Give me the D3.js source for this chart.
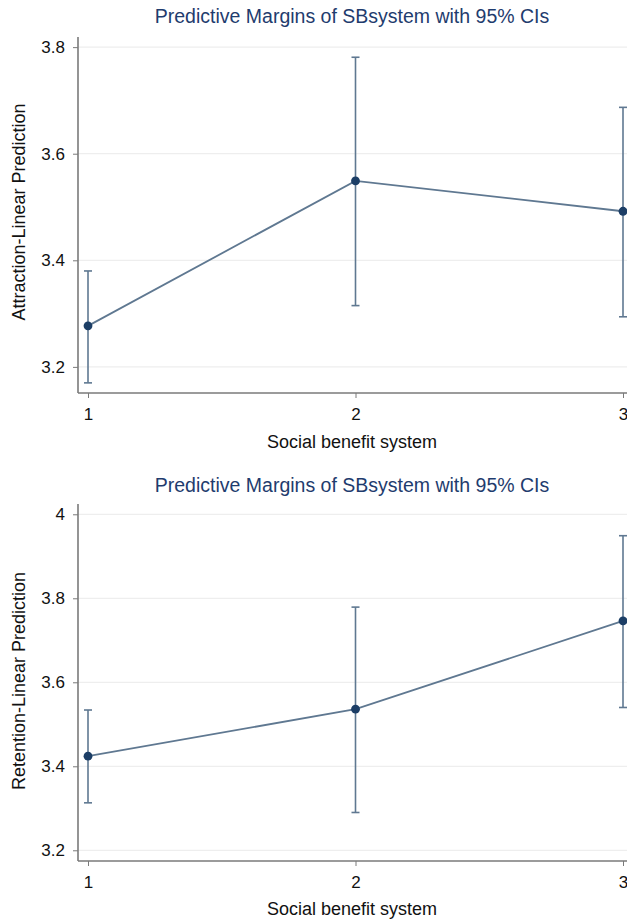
<!DOCTYPE html>
<html><head><meta charset="utf-8">
<script src="https://cdn.jsdelivr.net/npm/d3@7"></script>
<style>
html,body{margin:0;padding:0;background:#fff;}
svg{display:block;font-family:"Liberation Sans",Arial,Helvetica,sans-serif;}
</style></head>
<body><svg id="c" width="627" height="919"></svg>
<script>
const categories = [1, 2, 3];
const attractionMean = [3.277, 3.549, 3.492];
const attractionLow  = [3.170, 3.315, 3.294];
const attractionHigh = [3.380, 3.781, 3.687];
const retentionMean = [3.424, 3.536, 3.746];
const retentionLow  = [3.313, 3.290, 3.540];
const retentionHigh = [3.534, 3.779, 3.949];
const attractionTicks = [3.2, 3.4, 3.6, 3.8];
const retentionTicks = [3.2, 3.4, 3.6, 3.8, 4];
const titleText = "Predictive Margins of SBsystem with 95% CIs";
const xTitle = "Social benefit system";

const svg = d3.select("#c");
const lineColor = "#5f7891", dotColor = "#1c3e66", axisColor = "#7a7a7a", gridColor = "#eeeeee";

function panel(cfg) {
  const g = svg.append("g");
  const x = d3.scaleLinear().domain([1, 3]).range([88, 623]);
  const y = d3.scaleLinear().domain(cfg.yDomain).range([cfg.yBottom, cfg.yTop]);
  const axisX = 78;
  g.append("text").attr("x", 352).attr("y", cfg.titleY).attr("text-anchor", "middle")
    .attr("font-size", 19.5).attr("fill", "#1f3c6e").text(titleText);
  g.selectAll(".grid").data(cfg.ticks).join("line")
    .attr("x1", axisX).attr("x2", 627).attr("y1", d => y(d)).attr("y2", d => y(d))
    .attr("stroke", gridColor).attr("stroke-width", 1.2);
  const ya = g.append("g").attr("transform", `translate(${axisX},0)`)
    .call(d3.axisLeft(y).tickValues(cfg.ticks).tickSize(5).tickPadding(8).tickFormat(d3.format("")));
  ya.select(".domain").attr("stroke", axisColor).attr("stroke-width", 1.6)
    .attr("d", `M0,${y.range()[1]}V${y.range()[0]}`);
  ya.selectAll(".tick line").attr("stroke", axisColor);
  ya.selectAll(".tick text").attr("font-size", 17).attr("fill", "#111").attr("font-family", "Liberation Sans, Arial, sans-serif");
  const xa = g.append("g").attr("transform", `translate(0,${cfg.yBottom})`)
    .call(d3.axisBottom(x).tickValues(categories).tickSize(5).tickPadding(10).tickFormat(d3.format("d")));
  xa.select(".domain").attr("stroke", axisColor).attr("stroke-width", 1.6)
    .attr("d", `M${axisX},0H630`);
  xa.selectAll(".tick line").attr("stroke", axisColor);
  xa.selectAll(".tick text").attr("font-size", 17).attr("fill", "#111").attr("font-family", "Liberation Sans, Arial, sans-serif");
  g.append("text").attr("x", 352).attr("y", cfg.xTitleY).attr("text-anchor", "middle")
    .attr("font-size", 18).attr("fill", "#111").text(xTitle);
  g.append("text").attr("transform", `translate(25,${cfg.yTitleC}) rotate(-90)`)
    .attr("text-anchor", "middle").attr("font-size", 18).attr("fill", "#111").text(cfg.yTitle);
  const data = categories.map((c, i) => ({c, m: cfg.mean[i], lo: cfg.low[i], hi: cfg.high[i]}));
  g.selectAll(".eb").data(data).join("line")
    .attr("x1", d => x(d.c)).attr("x2", d => x(d.c)).attr("y1", d => y(d.lo)).attr("y2", d => y(d.hi))
    .attr("stroke", lineColor).attr("stroke-width", 1.6);
  ["lo", "hi"].forEach(k => {
    g.selectAll(".cap" + k).data(data).join("line")
      .attr("x1", d => x(d.c) - 4).attr("x2", d => x(d.c) + 4).attr("y1", d => y(d[k])).attr("y2", d => y(d[k]))
      .attr("stroke", lineColor).attr("stroke-width", 1.6);
  });
  g.append("path").datum(data)
    .attr("d", d3.line().x(d => x(d.c)).y(d => y(d.m)))
    .attr("fill", "none").attr("stroke", lineColor).attr("stroke-width", 1.8);
  g.selectAll(".dot").data(data).join("circle")
    .attr("cx", d => x(d.c)).attr("cy", d => y(d.m)).attr("r", 4.4).attr("fill", dotColor);
}

panel({ yDomain: [3.151, 3.819], yTop: 37, yBottom: 393, ticks: attractionTicks,
  mean: attractionMean, low: attractionLow, high: attractionHigh,
  titleY: 23, xTitleY: 448, yTitle: "Attraction-Linear Prediction", yTitleC: 212 });
panel({ yDomain: [3.1745, 4.0245], yTop: 504, yBottom: 861, ticks: retentionTicks,
  mean: retentionMean, low: retentionLow, high: retentionHigh,
  titleY: 492, xTitleY: 915, yTitle: "Retention-Linear Prediction", yTitleC: 681 });
</script></body></html>
